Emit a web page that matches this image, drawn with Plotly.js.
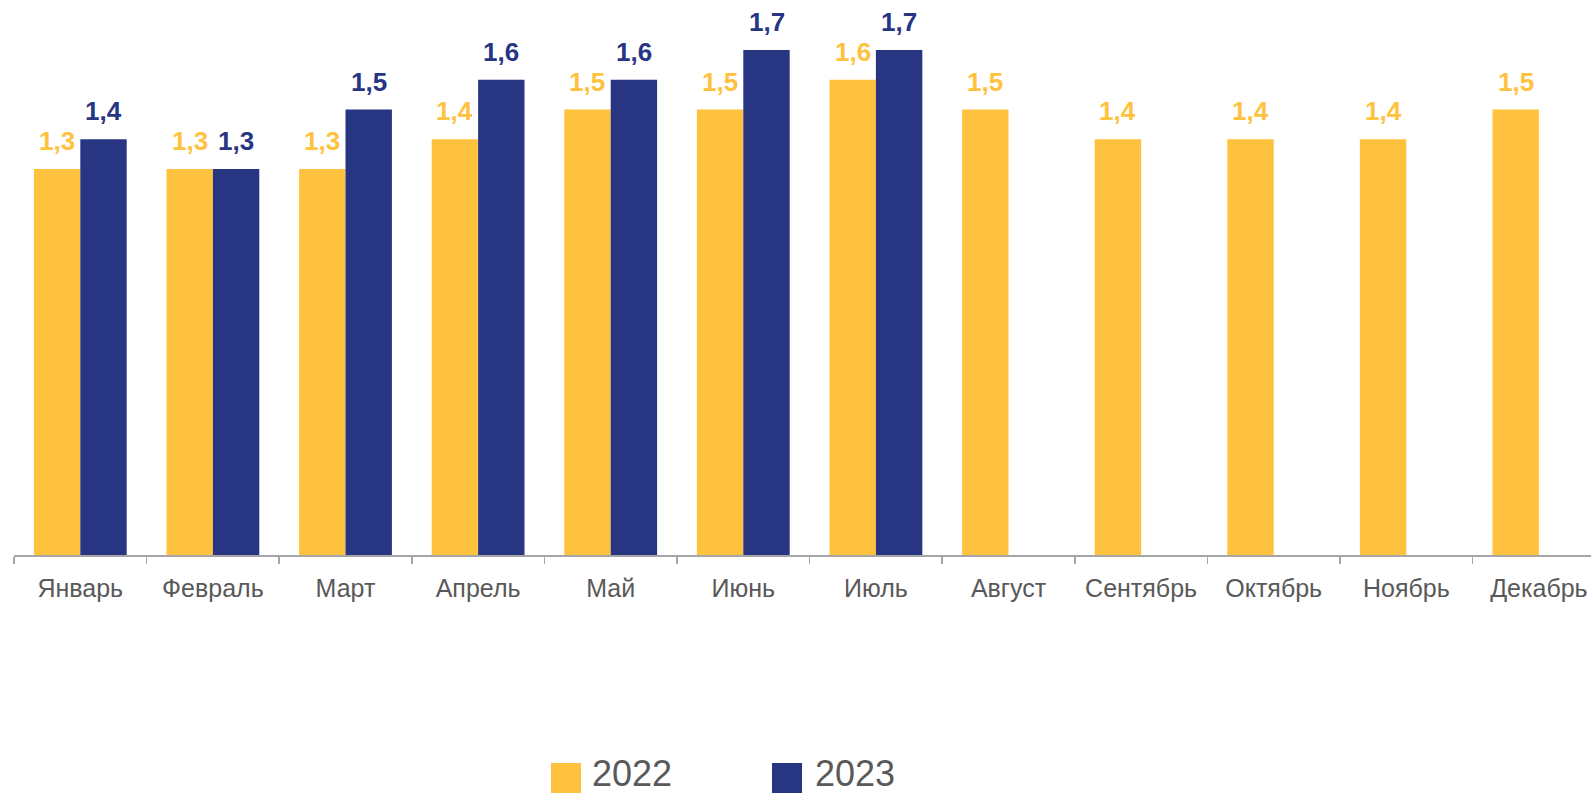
<!DOCTYPE html>
<html>
<head>
<meta charset="utf-8">
<script src="https://cdn.plot.ly/plotly-3.0.1.min.js"></script>
<style>html,body{margin:0;padding:0;background:#fff;overflow:hidden;}#chart{width:1591px;height:796px;}</style>
</head>
<body>
<div id="chart"></div>
<script>
const months = ['Январь','Февраль','Март','Апрель','Май','Июнь','Июль','Август','Сентябрь','Октябрь','Ноябрь','Декабрь'];
const seriesNames = ['2022','2023'];
const values2022 = [1.3,1.3,1.3,1.4,1.5,1.5,1.6,1.5,1.4,1.4,1.4,1.5];
const values2023 = [1.4,1.3,1.5,1.6,1.6,1.7,1.7,null,null,null,null,null];
const colors = ['#FFC23F','#283583'];

const W = 1591, H = 796;
const ml = 14, mr = 0, mt = 0, mb = 241;
const plotW = W - ml - mr, plotH = H - mt - mb;
const catPx = 132.6;
const xMax = -0.5 + plotW / catPx;
const pxPerUnit = 297;
const yMax = plotH / pxPerUnit;

const traces = [values2022, values2023].map((vals, i) => ({
  type: 'bar',
  x: months,
  y: vals,
  name: seriesNames[i],
  marker: {color: colors[i], line: {width: 0}},
  showlegend: false,
  hoverinfo: 'skip'
}));

const annotations = [];
const shapes = [];
[values2022, values2023].forEach((vals, i) => {
  vals.forEach((v, j) => {
    if (v === null) return;
    annotations.push({
      x: months[j], y: v, xref: 'x', yref: 'y',
      text: v.toFixed(1).replace('.', ','),
      showarrow: false,
      xanchor: 'center', yanchor: 'bottom',
      xshift: i === 0 ? -23.3 : 23.3,
      yshift: 11,
      font: {family: 'Liberation Sans, Arial, sans-serif', size: 26, color: colors[i], weight: 'bold'}
    });
  });
});

// Legend drawn manually (large swatches)
const toPX = px => (px - ml) / plotW;
const toPY = py => (plotH - (py - mt)) / plotH;
const legendItems = [{x0: 551, tx: 590}, {x0: 772, tx: 813}];
legendItems.forEach((it, i) => {
  shapes.push({
    type: 'rect', xref: 'paper', yref: 'paper',
    x0: toPX(it.x0), x1: toPX(it.x0 + 30),
    y0: toPY(793), y1: toPY(763),
    fillcolor: colors[i], line: {width: 0}
  });
  annotations.push({
    xref: 'paper', yref: 'paper', x: toPX(it.tx), y: toPY(796),
    xanchor: 'left', yanchor: 'bottom', showarrow: false,
    text: seriesNames[i],
    font: {family: 'Liberation Sans, Arial, sans-serif', size: 36, color: '#595959'}
  });
});

const layout = {
  width: W, height: H,
  margin: {l: ml, r: mr, t: mt, b: mb, pad: 0},
  paper_bgcolor: '#ffffff', plot_bgcolor: '#ffffff',
  barmode: 'group', bargap: 0.30, bargroupgap: 0,
  xaxis: {
    type: 'category', range: [-0.5, xMax],
    showline: true, linecolor: '#A6A6A6', linewidth: 1.5,
    ticks: 'outside', tickson: 'boundaries', ticklen: 7, tickcolor: '#A6A6A6', tickwidth: 1.5,
    ticklabelstandoff: 10,
    tickfont: {family: 'Liberation Sans, Arial, sans-serif', size: 25, color: '#595959'},
    showgrid: false, zeroline: false, fixedrange: true
  },
  yaxis: {
    range: [0, yMax], visible: false, showgrid: false, zeroline: false, fixedrange: true
  },
  annotations: annotations,
  shapes: shapes,
  showlegend: false
};

Plotly.newPlot('chart', traces, layout, {displayModeBar: false, staticPlot: true});
</script>
</body>
</html>
